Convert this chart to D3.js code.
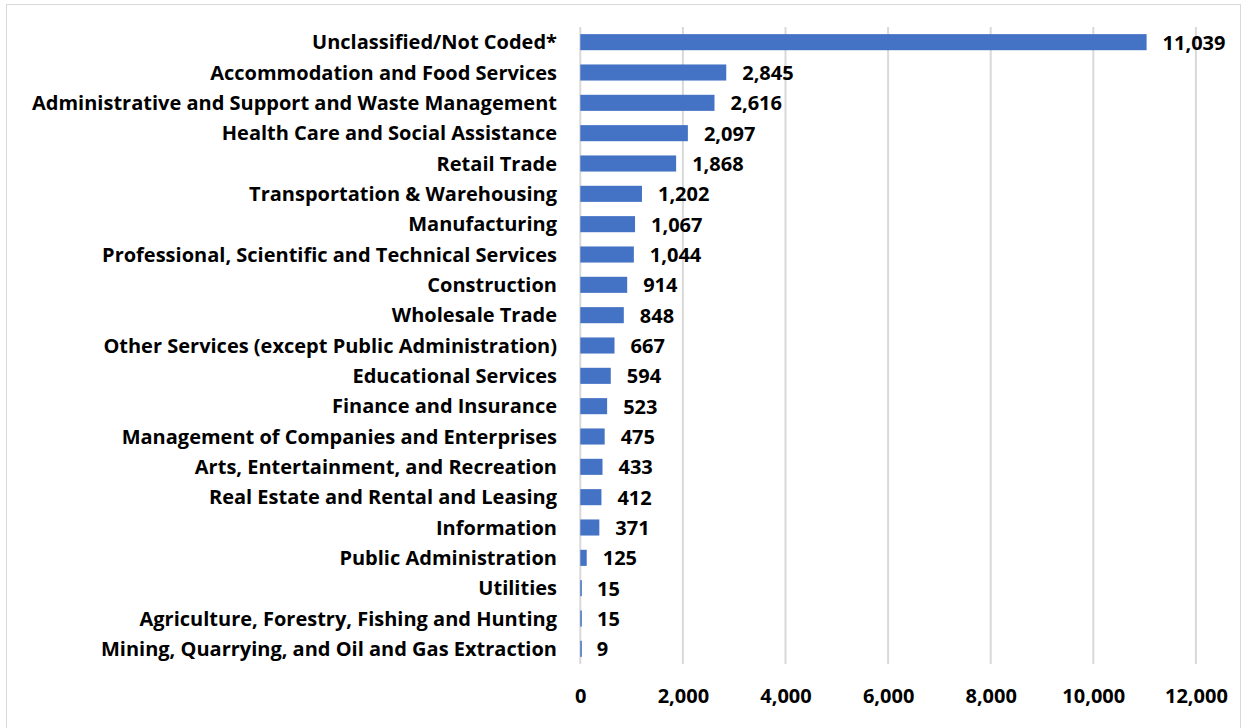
<!DOCTYPE html>
<html><head><meta charset="utf-8">
<script src="https://cdn.jsdelivr.net/npm/d3@7"></script>
<style>body{margin:0;background:#fff}svg{display:block}text{font-family:"Open Sans",Lato,sans-serif;font-weight:bold;fill:#000}</style>
</head><body><svg id="c" width="1244" height="728"></svg>
<script>
const categories = ["Unclassified/Not Coded*","Accommodation and Food Services","Administrative and Support and Waste Management","Health Care and Social Assistance","Retail Trade","Transportation & Warehousing","Manufacturing","Professional, Scientific and Technical Services","Construction","Wholesale Trade","Other Services (except Public Administration)","Educational Services","Finance and Insurance","Management of Companies and Enterprises","Arts, Entertainment, and Recreation","Real Estate and Rental and Leasing","Information","Public Administration","Utilities","Agriculture, Forestry, Fishing and Hunting","Mining, Quarrying, and Oil and Gas Extraction"];
const values = [11039,2845,2616,2097,1868,1202,1067,1044,914,848,667,594,523,475,433,412,371,125,15,15,9];
const ticks = [0,2000,4000,6000,8000,10000,12000];

const svg = d3.select("#c");
svg.append("rect").attr("x",6.5).attr("y",4.5).attr("width",1234).attr("height",730).attr("fill","none").attr("stroke","#d9d9d9");
const x = d3.scaleLinear().domain([0,12000]).range([580.3,1195.9]);
const y = d3.scaleBand().domain(categories).range([27,664]).paddingInner(0.47).paddingOuter(0.235);

const g = svg.append("g");
g.selectAll(".grid").data(ticks).join("line")
 .attr("x1",d=>x(d)).attr("x2",d=>x(d)).attr("y1",27).attr("y2",664)
 .attr("stroke","#d9d9d9").attr("stroke-width",2);
const ax = d3.axisBottom(x).tickValues(ticks).tickFormat(d3.format(",")).tickSize(0).tickPadding(0);
const axg = svg.append("g").attr("transform","translate(0,703)").call(ax);
axg.select(".domain").remove();
axg.selectAll("text").attr("font-size",20).attr("font-family","Open Sans").attr("font-weight","bold").attr("fill","#000").attr("dy",0);

g.selectAll(".bar").data(values).join("rect")
 .attr("x",x(0)).attr("y",(d,i)=>y(categories[i])).attr("height",y.bandwidth())
 .attr("width",d=>Math.max(1.5,x(d)-x(0))).attr("fill","#4472C4");
g.selectAll(".val").data(values).join("text")
 .attr("x",d=>x(d)+16).attr("y",(d,i)=>y(categories[i])+y.bandwidth()/2+7.5)
 .attr("font-size",20).text(d=>d3.format(",")(d));
g.selectAll(".lab").data(categories).join("text")
 .attr("x",557).attr("y",d=>y(d)+y.bandwidth()/2+7)
 .attr("text-anchor","end")
 .attr("font-size",20).text(d=>d);
</script></body></html>
